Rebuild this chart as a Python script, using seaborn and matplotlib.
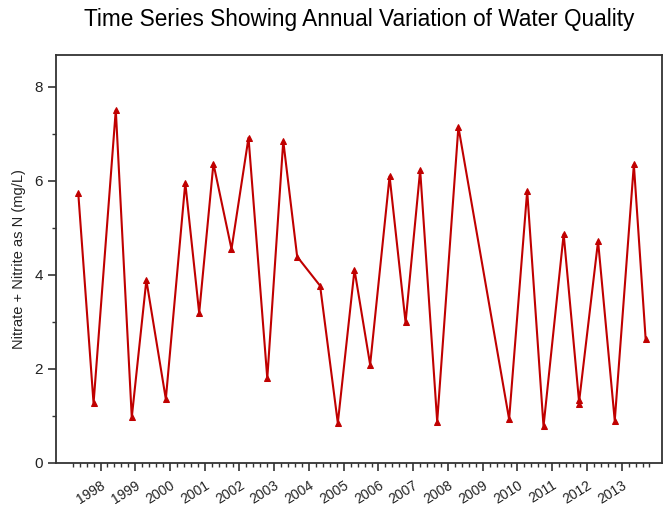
import numpy as np
import pandas as pd
import matplotlib
matplotlib.use('Agg')
import matplotlib.pyplot as plt
import seaborn as sns

# Sample dates (decimal years) and nitrate + nitrite values
sample_year = [1997.36, 1997.80, 1998.44, 1998.90, 1999.32, 1999.88, 2000.44, 2000.84,
               2001.25, 2001.77, 2002.26, 2002.80, 2003.26, 2003.66, 2004.32, 2004.83,
               2005.31, 2005.76, 2006.32, 2006.78, 2007.20, 2007.69, 2008.30, 2009.76,
               2010.28, 2010.75, 2011.33, 2011.78, 2011.78, 2012.32, 2012.80, 2013.35,
               2013.69]
nitrogen = [5.74, 1.27, 7.51, 0.97, 3.89, 1.36, 5.96, 3.19,
            6.37, 4.55, 6.92, 1.80, 6.85, 4.39, 3.77, 0.85,
            4.11, 2.09, 6.10, 2.99, 6.23, 0.88, 7.15, 0.93,
            5.79, 0.78, 4.87, 1.25, 1.34, 4.72, 0.90, 6.35,
            2.63]
year_labels = [str(y) for y in range(1998, 2014)]

df = pd.DataFrame({'year': sample_year, 'value': nitrogen})

sns.set_style('ticks')
plt.rcParams['font.family'] = ['Liberation Sans', 'DejaVu Sans']

fig = plt.figure(figsize=(6.67, 5.09), dpi=100)
ax = fig.add_axes([0.084, 0.0904, 0.9085, 0.8016])

red = '#c00000'
sns.lineplot(data=df, x='year', y='value', ax=ax, sort=False, color=red,
             linewidth=1.5, marker='^', markersize=5, markeredgecolor=red,
             markerfacecolor=red, estimator=None)

ax.set_xlim(1996.72, 2014.16)
ax.set_ylim(0, 8.68)

# x ticks: yearly major, 0.2-year minor
ax.set_xticks(np.arange(1998, 2014))
ax.set_xticklabels(year_labels, rotation=32, ha='right', rotation_mode='anchor',
                   fontsize=10, color='#222222')
minor = [m for m in np.round(np.arange(1997.2, 2013.81, 0.2), 1) if m % 1 != 0]
ax.set_xticks(minor, minor=True)
ax.tick_params(axis='x', which='major', pad=5)

ax.set_yticks([0, 2, 4, 6, 8])
ax.set_yticks([1, 3, 5, 7], minor=True)
ax.tick_params(axis='y', labelsize=11, labelcolor='#222222')

ax.tick_params(which='major', length=6, width=1.2, color='#333333', direction='out')
ax.tick_params(which='minor', length=3, width=1.0, color='#333333', direction='out')

for s in ax.spines.values():
    s.set_visible(True)
    s.set_color('#333333')
    s.set_linewidth(1.3)

ax.set_xlabel('')
ax.set_ylabel('Nitrate + Nitrite as N (mg/L)', fontsize=10.5, labelpad=6,
              color='#222222')
fig.text(0.539, 0.962, 'Time Series Showing Annual Variation of Water Quality',
         fontsize=16.3, ha='center', va='center', color='black')

fig.savefig('out.png', dpi=100)
